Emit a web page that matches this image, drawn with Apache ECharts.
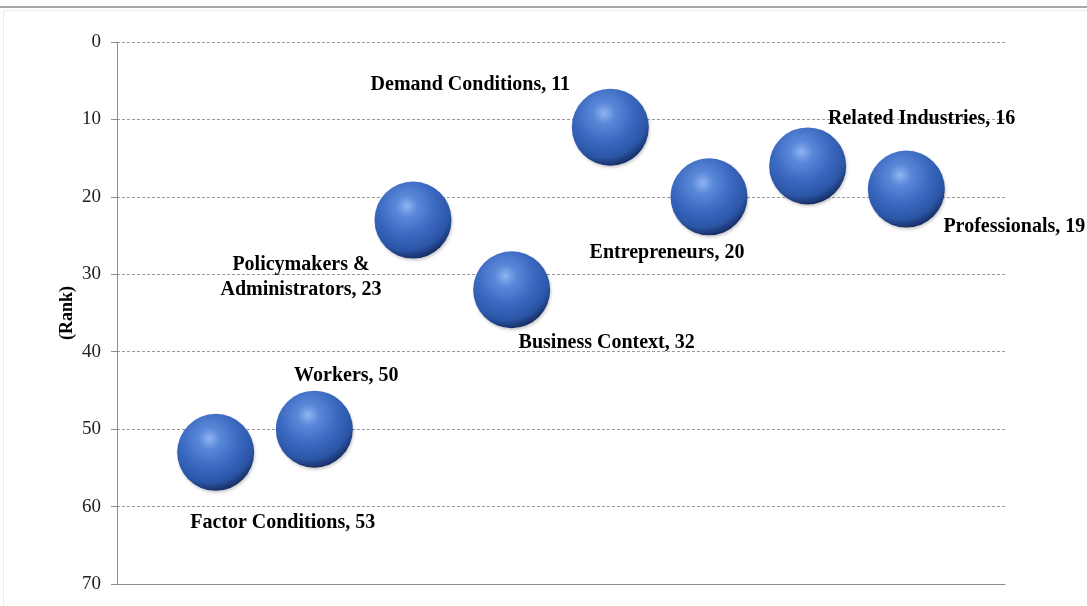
<!DOCTYPE html>
<html>
<head>
<meta charset="utf-8">
<script src="https://cdn.jsdelivr.net/npm/echarts@6/dist/echarts.min.js"></script>
<style>
html,body{margin:0;padding:0;background:#fff;}
#chart{width:1087px;height:606px;}
</style>
</head>
<body>
<div id="chart"></div>
<script>
// ---- data ----
var categories = ["Factor Conditions", "Workers", "Policymakers &\nAdministrators", "Business Context", "Demand Conditions", "Entrepreneurs", "Related Industries", "Professionals"];
var xPositions = [1, 2, 3, 4, 5, 6, 7, 8];
var ranks = [53, 50, 23, 32, 11, 20, 16, 19];
var yTicks = [0, 10, 20, 30, 40, 50, 60, 70];
var yAxisName = "(Rank)";

// label placement (style, not data)
var labelOffsets = [[67, 70], [32, -53], [-112, 57], [95, 53], [-140, -42], [-42, 56], [114, -47], [108, 38]];

var chart = echarts.init(document.getElementById('chart'));

var sphere = {
  type: 'radial', x: 0.42, y: 0.32, r: 0.7,
  colorStops: [
    {offset: 0, color: '#8fb5f2'},
    {offset: 0.2, color: '#5a88d8'},
    {offset: 0.55, color: '#3a67bf'},
    {offset: 0.82, color: '#2b55a6'},
    {offset: 1, color: '#142a5e'}
  ]
};

var points = xPositions.map(function (x, i) {
  return {
    value: [x, ranks[i]],
    label: {
      offset: labelOffsets[i],
      formatter: categories[i] + ', ' + ranks[i]
    }
  };
});

var option = {
  backgroundColor: '#ffffff',
  animation: false,
  grid: {left: 117, right: 82, top: 42, bottom: 22, containLabel: false},
  xAxis: {
    type: 'value', min: 0, max: 9,
    axisLine: {show: true, onZero: false, lineStyle: {color: '#8c8c8c', width: 1}},
    axisTick: {show: false},
    axisLabel: {show: false},
    splitLine: {show: false}
  },
  yAxis: {
    type: 'value', inverse: true, min: yTicks[0], max: yTicks[yTicks.length - 1], interval: 10,
    name: yAxisName, nameLocation: 'middle', nameGap: 41, nameRotate: 90, nameMoveOverlap: false,
    nameTextStyle: {fontFamily: 'Liberation Serif', fontWeight: 'bold', fontSize: 18, color: '#000'},
    axisLine: {show: true, lineStyle: {color: '#8c8c8c', width: 1}},
    axisTick: {show: true, length: 6, lineStyle: {color: '#8c8c8c'}},
    axisLabel: {margin: 16, fontFamily: 'Liberation Serif', fontSize: 19, color: '#222'},
    splitLine: {show: true, lineStyle: {color: '#9a9a9a', type: [3, 2], width: 1}}
  },
  series: [{
    type: 'scatter',
    data: points,
    symbol: 'circle',
    symbolSize: 77,
    itemStyle: {color: sphere, opacity: 1, shadowColor: 'rgba(0,0,0,0.2)', shadowBlur: 3, shadowOffsetX: 1, shadowOffsetY: 2},
    label: {
      show: true, position: 'inside', align: 'center', verticalAlign: 'middle',
      fontFamily: 'Liberation Serif', fontWeight: 'bold', fontSize: 20, lineHeight: 25,
      color: '#000', textBorderWidth: 0, textBorderColor: 'transparent', opacity: 1
    },
    emphasis: {disabled: true}
  }],
  graphic: [
    {type: 'rect', shape: {x: 3.5, y: 10.5, width: 1090, height: 600}, style: {fill: 'none', stroke: '#ececec', lineWidth: 1}, silent: true},
    {type: 'line', shape: {x1: 0, y1: 7, x2: 1087, y2: 7}, style: {stroke: '#8a8a8a', lineWidth: 1.5}, silent: true}
  ]
};
chart.setOption(option);
</script>
</body>
</html>
